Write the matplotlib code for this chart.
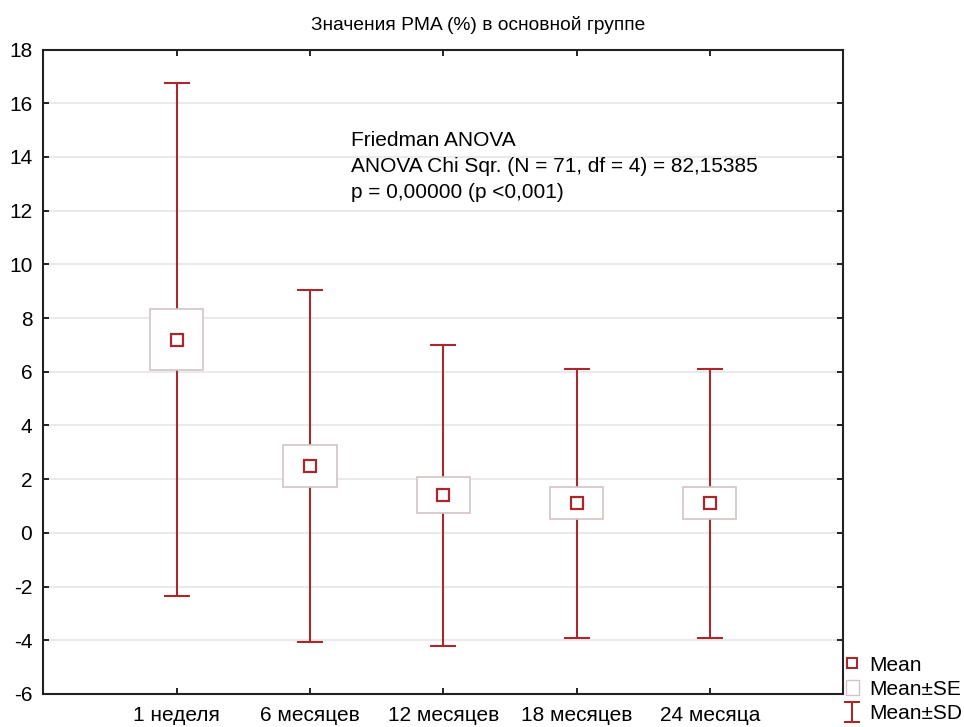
import matplotlib
matplotlib.use('Agg')
import matplotlib.pyplot as plt
from matplotlib.patches import Rectangle, Patch
from matplotlib.lines import Line2D
from matplotlib.legend_handler import HandlerBase

plt.rcParams['font.family'] = ['Liberation Sans', 'DejaVu Sans']
plt.rcParams['axes.unicode_minus'] = False

# data
labels = ['1 неделя', '6 месяцев', '12 месяцев', '18 месяцев', '24 месяца']
mean = [7.2, 2.5, 1.4, 1.1, 1.1]
se = [1.13, 0.78, 0.67, 0.6, 0.6]
sd = [9.55, 6.55, 5.6, 5.0, 5.0]

red = '#a8282c'
box_edge = '#d2c4c4'


class HandlerIBar(HandlerBase):
    def create_artists(self, legend, orig_handle, xdescent, ydescent,
                       width, height, fontsize, trans):
        cx = width / 2 - xdescent
        y0 = -ydescent - 2
        y1 = height - ydescent + 2
        w = width * 0.55
        arts = [Line2D([cx, cx], [y0, y1]),
                Line2D([cx - w, cx + w], [y0, y0]),
                Line2D([cx - w, cx + w], [y1, y1])]
        for a in arts:
            a.set_color(red)
            a.set_linewidth(1.5)
            a.set_transform(trans)
        return arts


fig = plt.figure(figsize=(9.64, 7.27), dpi=100)
ax = fig.add_axes([0.0451, 0.0454, 0.8294, 0.8865])

x = list(range(1, len(labels) + 1))
ax.errorbar(x, mean, yerr=sd, fmt='none', ecolor=red, elinewidth=1.5,
            capsize=9.7, capthick=1.5, zorder=2)
for xi, m, s in zip(x, mean, se):
    ax.add_patch(Rectangle((xi - 0.2, m - s), 0.4, 2 * s, facecolor='white',
                           edgecolor=box_edge, linewidth=1.2, zorder=3))
ax.plot(x, mean, linestyle='none', marker='s', markersize=8,
        markerfacecolor='white', markeredgecolor=red, markeredgewidth=1.6,
        zorder=4)

ax.set_xlim(0, 6)
ax.set_ylim(-6, 18)
ax.set_xticks(x)
ax.set_xticklabels(labels)
ax.set_yticks(range(-6, 19, 2))
ax.yaxis.grid(True, color='#e6e6e6', linewidth=1.2)
ax.set_axisbelow(True)
ax.tick_params(direction='in', length=4, width=1.2, top=True, right=True,
               labelsize=15, colors='black')
ax.tick_params(axis='x', pad=9)
ax.tick_params(axis='y', pad=8)
for sp in ax.spines.values():
    sp.set_linewidth(1.5)
    sp.set_color('#222222')

ax.text(2.31, 14.95, 'Friedman ANOVA\nANOVA Chi Sqr. (N = 71, df = 4) = 82,15385\n'
        'p = 0,00000 (p <0,001)', fontsize=15, va='top', ha='left',
        linespacing=1.45, zorder=5)

fig.text(0.496, 0.965, 'Значения PMA (%) в основной группе', fontsize=13.8,
         ha='center', va='center')

handles = [Line2D([], [], linestyle='none', marker='s', markersize=7,
                  markerfacecolor='white', markeredgecolor=red,
                  markeredgewidth=1.5),
           Patch(facecolor='white', edgecolor=box_edge),
           'ibar']
leg = fig.legend(handles, ['Mean', 'Mean±SE', 'Mean±SD'],
                 handler_map={str: HandlerIBar()},
                 loc='lower left', bbox_to_anchor=(0.869, -0.006),
                 frameon=False, fontsize=15, handlelength=0.6,
                 handletextpad=0.5, labelspacing=0.25, borderaxespad=0)

fig.savefig('out.png', dpi=100)
